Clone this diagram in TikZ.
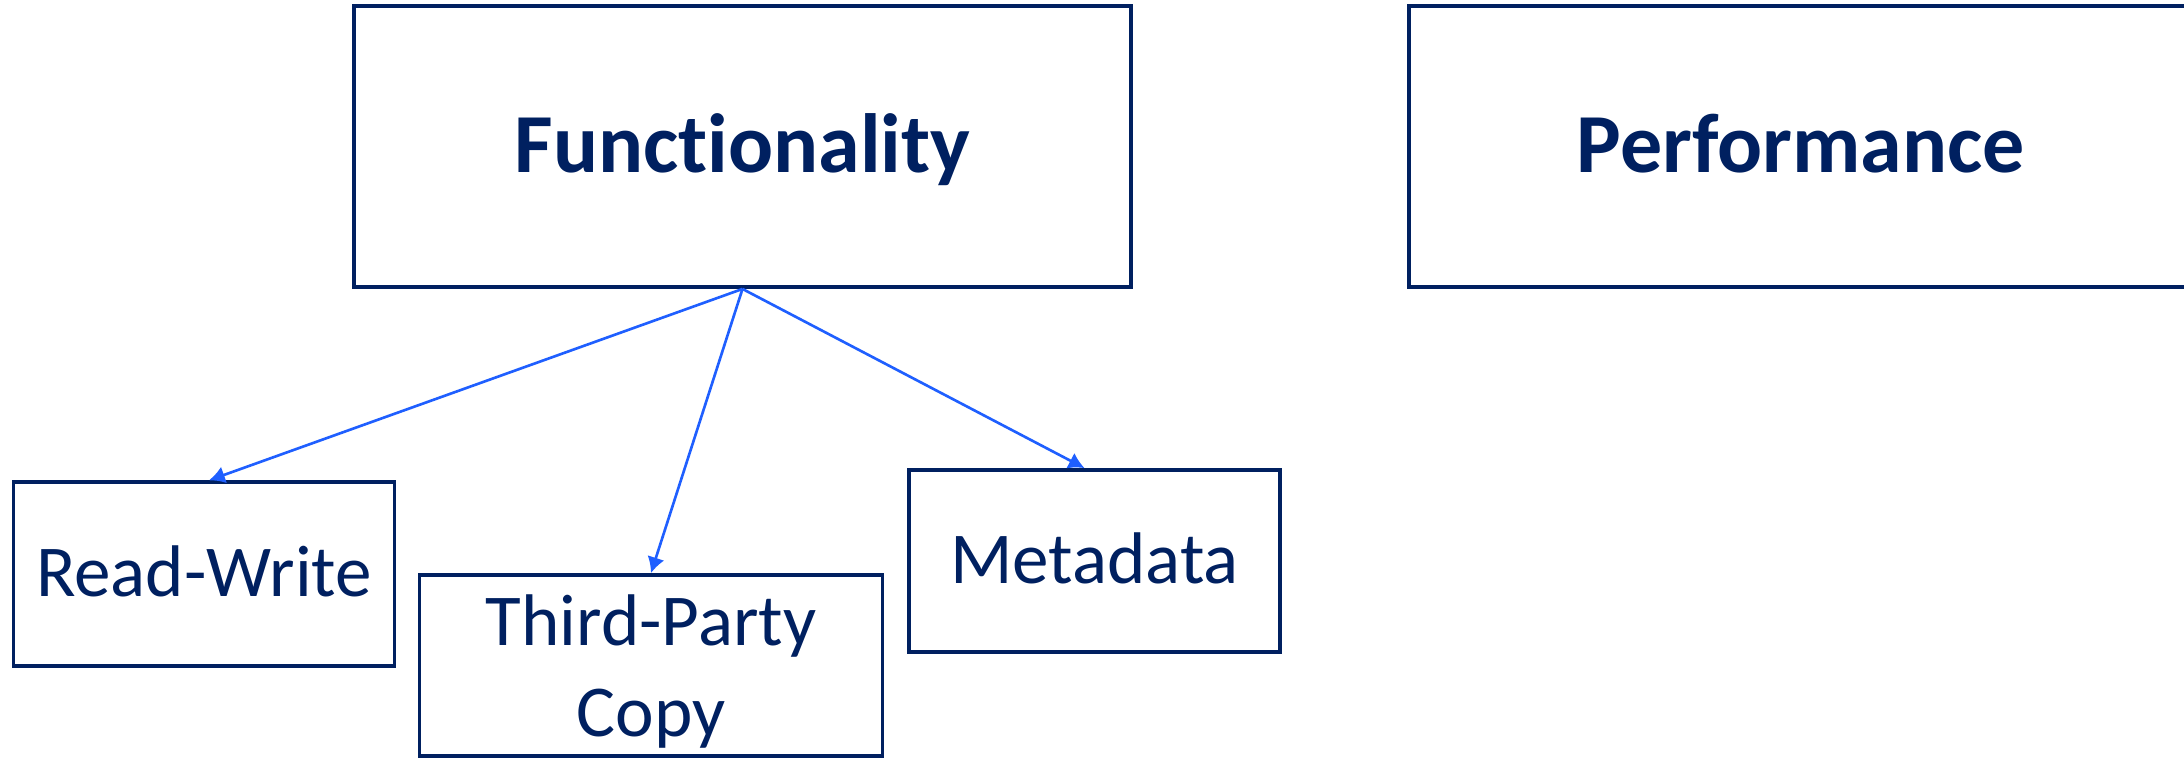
\documentclass[tikz,border=0pt]{standalone}
\usepackage{fontspec}
\setmainfont{Carlito}[Ligatures=NoCommon]
\usetikzlibrary{arrows.meta}
\definecolor{navy}{HTML}{002060}
\definecolor{linkblue}{HTML}{1F5FFF}
\tikzset{
  box/.style= {draw=navy, line width=1.1pt, text=navy, inner sep=0pt,
    font=\fontsize{20.8}{26}\selectfont, text height=13pt, text depth=0pt},
  hbox/.style= {box, minimum height=2.81cm,
    font=\fontsize{23.9}{28}\selectfont\bfseries, text height=15pt},
  link/.style= {draw=linkblue, line width=0.75pt, -{Latex[length=4.5pt, width=5pt]}},
}

\begin{document}
\begin{tikzpicture}
  \useasboundingbox (0,0) rectangle (21.84,-7.58);

  \node [hbox, minimum width=7.77cm] (fun) at (7.425,-1.465) {Functionality} ;
  \node [hbox, minimum width=7.84cm] (perf) at (18.01,-1.465) {Performance} ;

  \node [box, minimum width=3.81cm, minimum height=1.835cm] (rw) at (2.04,-5.74) {Read-Write} ;
  \node [box, minimum width=4.63cm, minimum height=1.81cm, align=center, text height=] (tpc) at (6.51,-6.655) {Third-Party\\Copy} ;
  \node [box, minimum width=3.71cm, minimum height=1.82cm] (meta) at (10.945,-5.61) {Metadata} ;

  \draw [link] (fun.south) -- ([xshift=0.05cm]rw.north) ;
  \draw [link] (fun.south) -- (tpc.north) ;
  \draw [link] (fun.south) -- ([xshift=-0.1cm]meta.north) ;
\end{tikzpicture}
\end{document}
